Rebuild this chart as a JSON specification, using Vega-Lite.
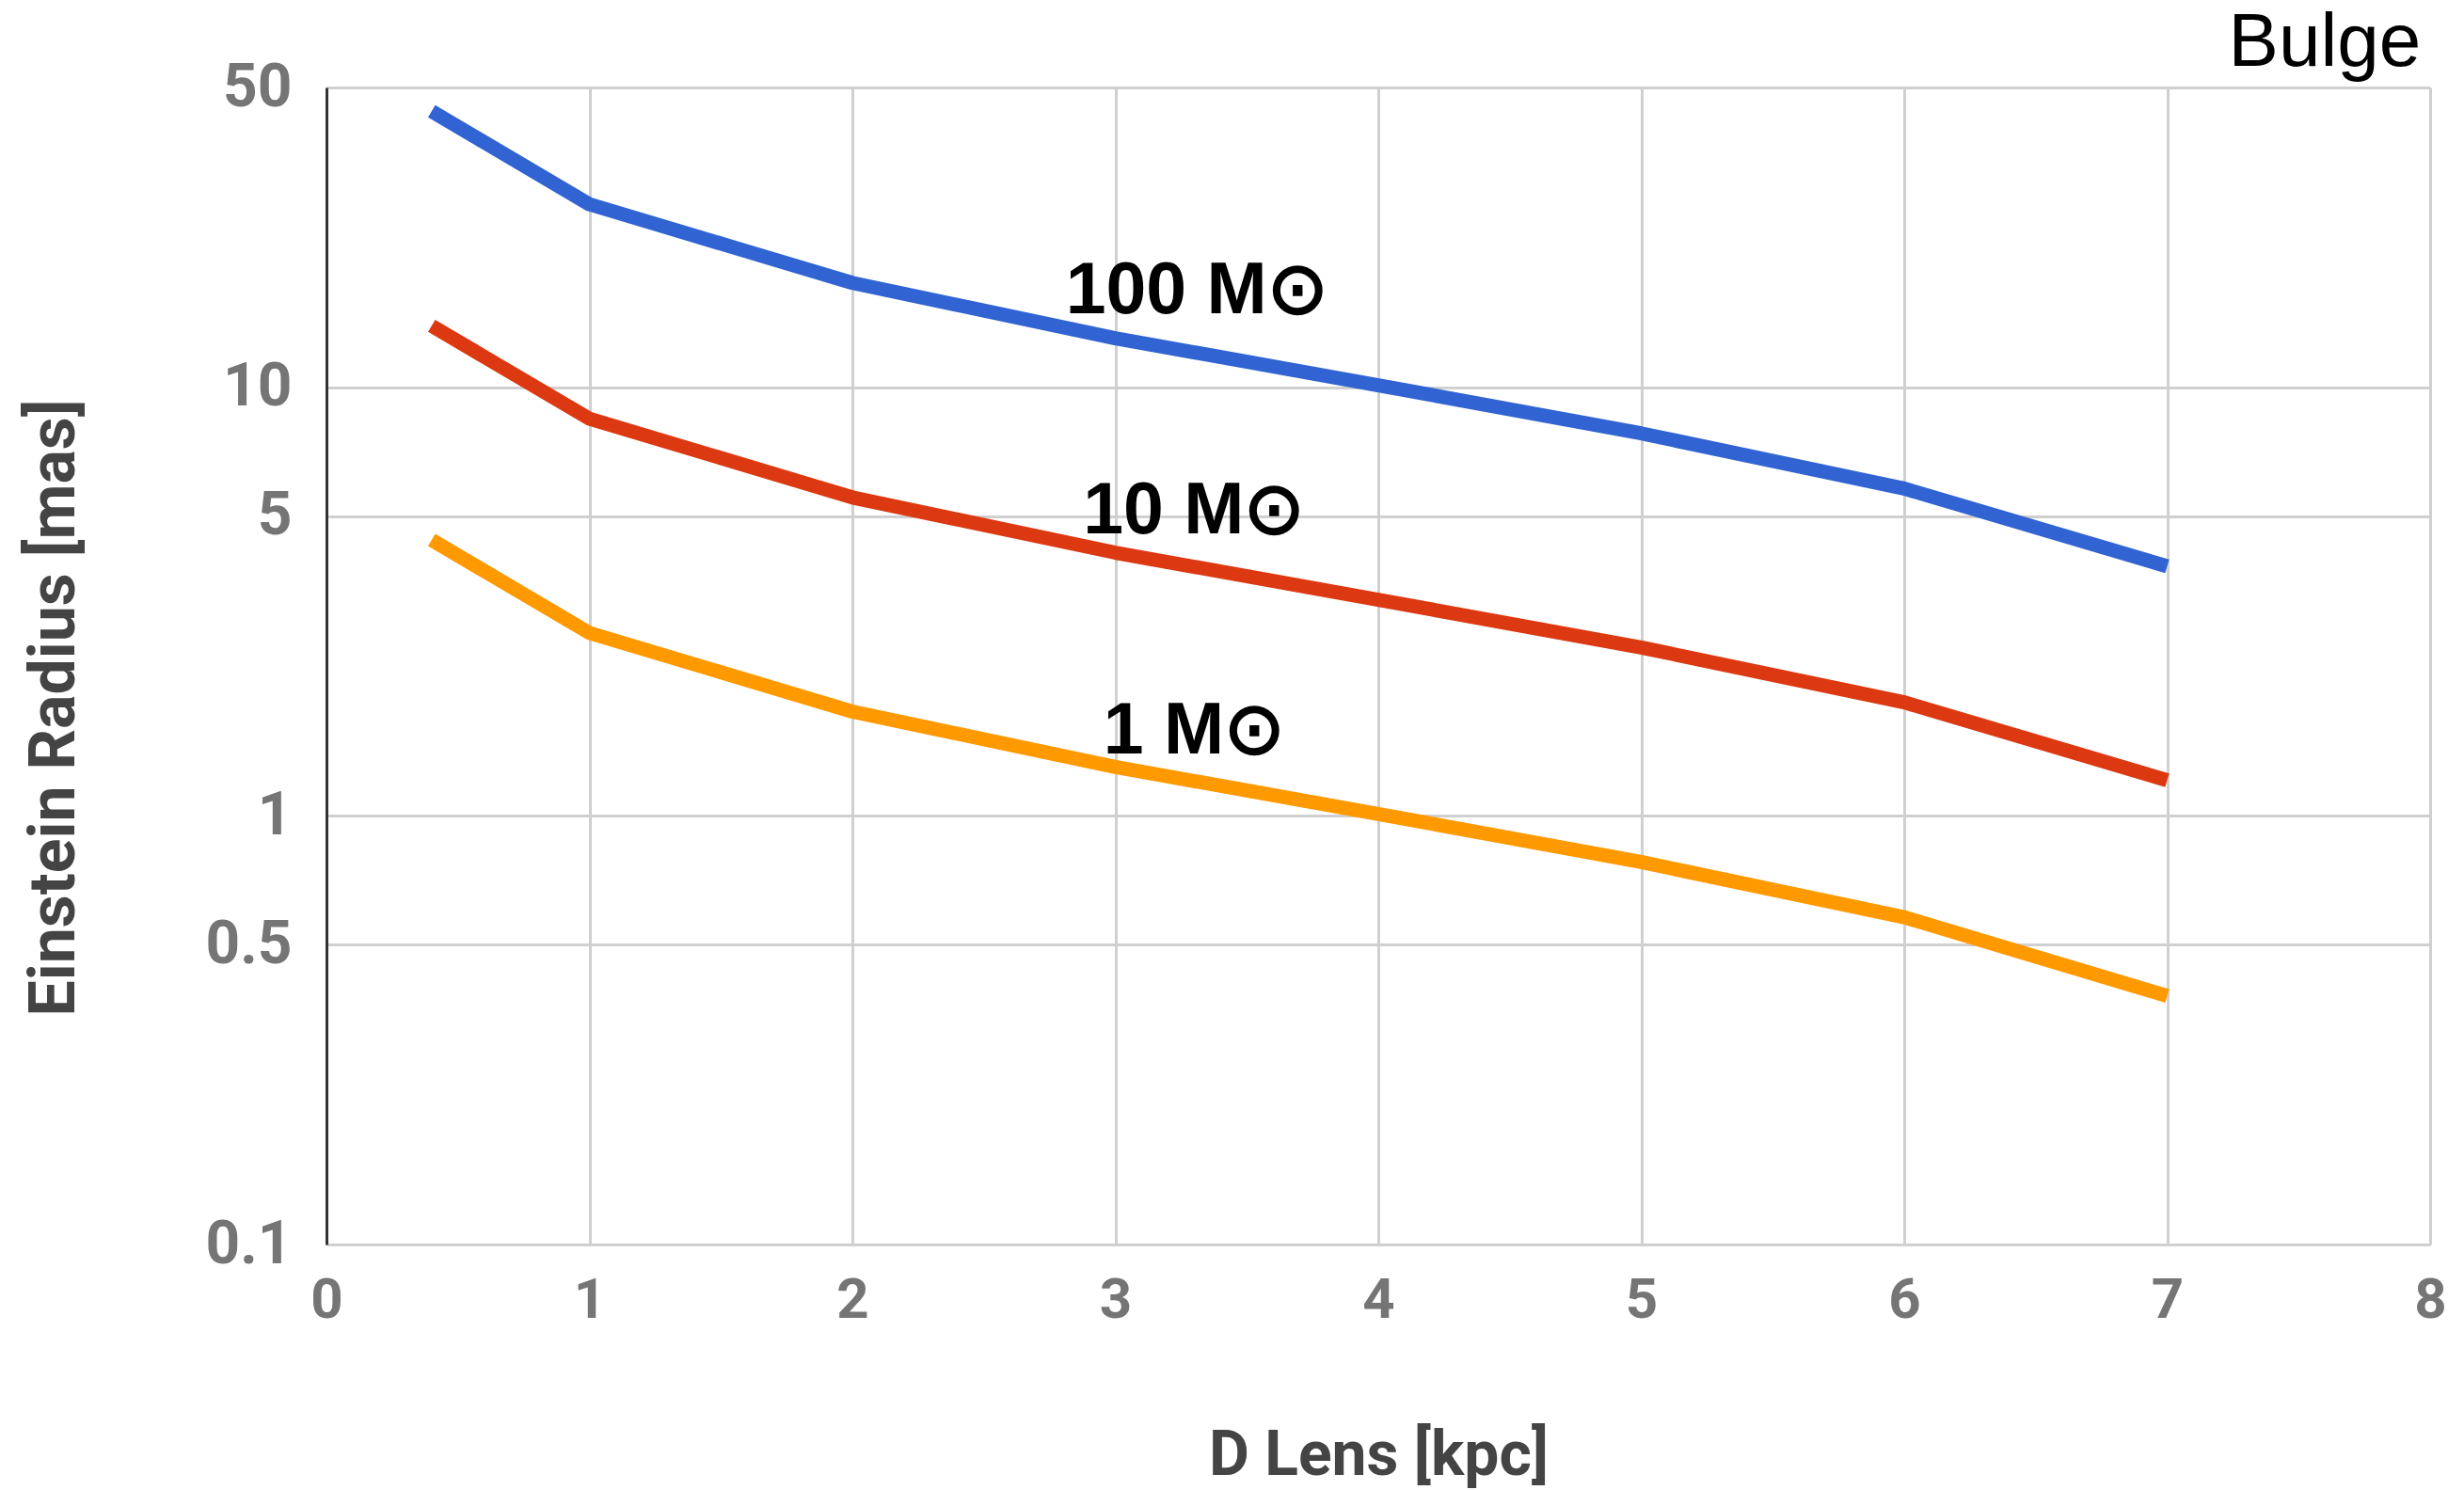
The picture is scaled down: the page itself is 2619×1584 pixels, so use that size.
{
  "$schema": "https://vega.github.io/schema/vega-lite/v6.json",
  "autosize": {"type": "none"},
  "padding": {"left": 347, "top": 93, "right": 36, "bottom": 261},
  "width": 2236,
  "height": 1230,
  "background": "white",
  "title": {
    "text": "Bulge",
    "anchor": "end",
    "font": "Liberation Sans",
    "fontSize": 80,
    "fontWeight": "normal",
    "color": "#000000",
    "offset": -26,
    "dx": -27
  },
  "config": {
    "view": {"stroke": null},
    "axis": {
      "labelFont": "Roboto",
      "labelFontWeight": "bold",
      "labelColor": "#757575",
      "titleFont": "Roboto",
      "titleFontWeight": "bold",
      "titleColor": "#444444",
      "gridColor": "#d0d0d0",
      "gridWidth": 3,
      "gridOpacity": 1,
      "ticks": false,
      "labelFlush": false,
      "labelOverlap": false
    }
  },
  "datasets": {
    "curves": [
      {"D": 0.4, "theta": 4.40, "mass": "1"},
      {"D": 1, "theta": 2.67, "mass": "1"},
      {"D": 2, "theta": 1.75, "mass": "1"},
      {"D": 3, "theta": 1.30, "mass": "1"},
      {"D": 4, "theta": 1.01, "mass": "1"},
      {"D": 5, "theta": 0.78, "mass": "1"},
      {"D": 6, "theta": 0.58, "mass": "1"},
      {"D": 7, "theta": 0.38, "mass": "1"},
      {"D": 0.4, "theta": 13.9, "mass": "10"},
      {"D": 1, "theta": 8.44, "mass": "10"},
      {"D": 2, "theta": 5.53, "mass": "10"},
      {"D": 3, "theta": 4.11, "mass": "10"},
      {"D": 4, "theta": 3.19, "mass": "10"},
      {"D": 5, "theta": 2.47, "mass": "10"},
      {"D": 6, "theta": 1.84, "mass": "10"},
      {"D": 7, "theta": 1.21, "mass": "10"},
      {"D": 0.4, "theta": 44.0, "mass": "100"},
      {"D": 1, "theta": 26.7, "mass": "100"},
      {"D": 2, "theta": 17.5, "mass": "100"},
      {"D": 3, "theta": 13.0, "mass": "100"},
      {"D": 4, "theta": 10.1, "mass": "100"},
      {"D": 5, "theta": 7.8, "mass": "100"},
      {"D": 6, "theta": 5.8, "mass": "100"},
      {"D": 7, "theta": 3.82, "mass": "100"}
    ],
    "labels": [
      {"D": 3.31, "theta": 14.9, "label": "100 M⊙"},
      {"D": 3.30, "theta": 4.56, "label": "10 M⊙"},
      {"D": 3.30, "theta": 1.40, "label": "1 M⊙"}
    ]
  },
  "layer": [
    {
      "data": {"name": "curves"},
      "mark": {"type": "line", "strokeWidth": 15, "strokeCap": "butt", "strokeJoin": "round"},
      "encoding": {
        "x": {
          "field": "D",
          "type": "quantitative",
          "scale": {"domain": [0, 8], "nice": false},
          "axis": {
            "title": "D Lens [kpc]",
            "values": [0, 1, 2, 3, 4, 5, 6, 7, 8],
            "format": "d",
            "labelFontSize": 60,
            "labelPadding": 30,
            "titleFontSize": 66,
            "titleBaseline": "alphabetic",
            "titleY": 244,
            "domain": false
          }
        },
        "y": {
          "field": "theta",
          "type": "quantitative",
          "scale": {"type": "log", "domain": [0.1, 50], "nice": false},
          "axis": {
            "title": "Einstein Radius [mas]",
            "values": [0.1, 0.5, 1, 5, 10, 50],
            "format": "~g",
            "labelFontSize": 64,
            "labelPadding": 37,
            "titleFontSize": 68,
            "titleBaseline": "alphabetic",
            "titleX": -269,
            "titleY": 659,
            "domain": true,
            "domainColor": "#333333",
            "domainWidth": 3
          }
        },
        "color": {
          "field": "mass",
          "type": "nominal",
          "scale": {"domain": ["1", "10", "100"], "range": ["#ff9900", "#dc3912", "#3164d2"]},
          "legend": null
        }
      }
    },
    {
      "data": {"name": "labels"},
      "mark": {
        "type": "text",
        "font": "Liberation Sans",
        "fontWeight": "bold",
        "fontSize": 77,
        "color": "#000000",
        "align": "center",
        "baseline": "alphabetic"
      },
      "encoding": {
        "x": {"field": "D", "type": "quantitative"},
        "y": {"field": "theta", "type": "quantitative"},
        "text": {"field": "label"}
      }
    }
  ]
}
